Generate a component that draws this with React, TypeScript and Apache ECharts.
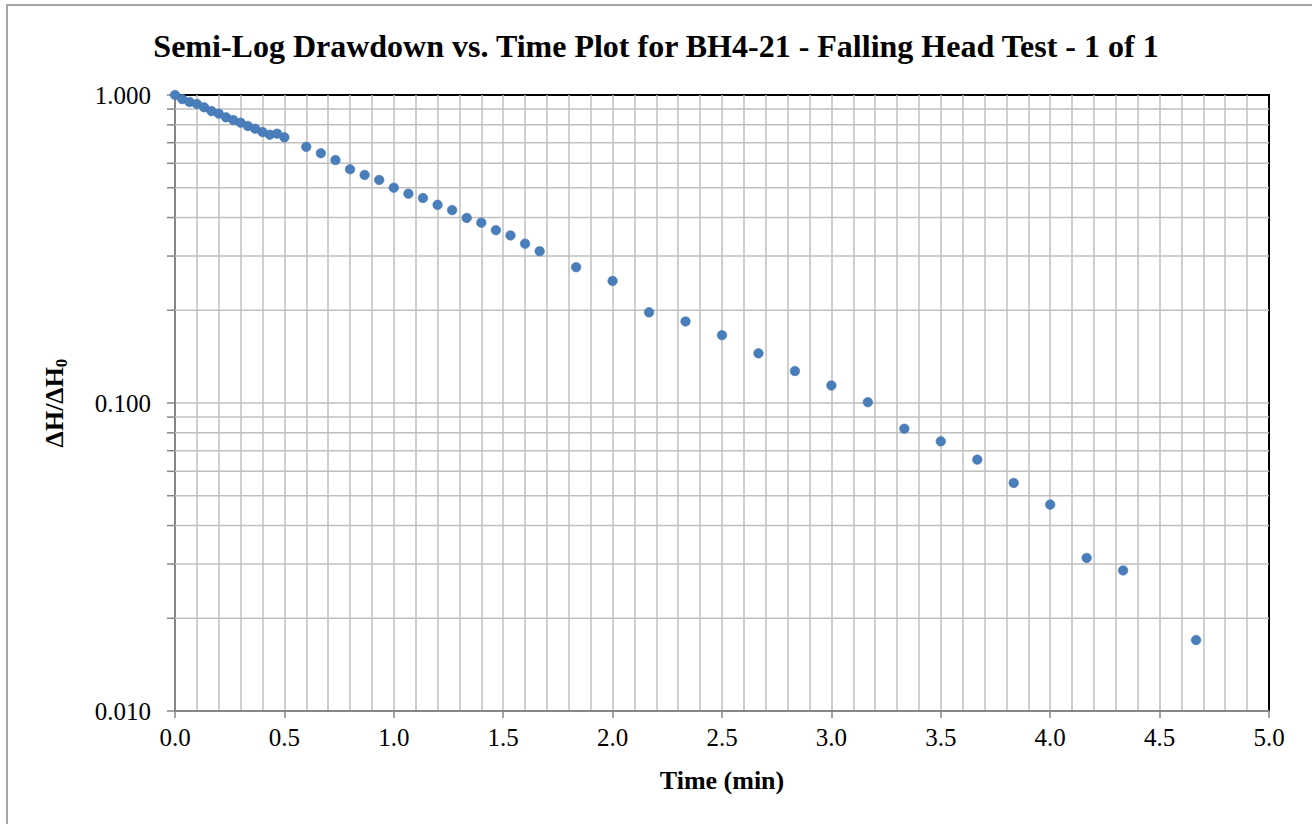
import React, { useEffect, useRef } from "react";
import * as echarts from "echarts";

const TITLE = "Semi-Log Drawdown vs. Time Plot for BH4-21 - Falling Head Test - 1 of 1";
const X_NAME = "Time (min)";

const timeMin: number[] = [
  0, 0.0333, 0.0667, 0.1, 0.1333, 0.1667, 0.2, 0.2333, 0.2667, 0.3, 0.3333, 0.3667, 0.4, 0.4333, 0.4667, 0.5,
  0.6, 0.6667, 0.7333, 0.8, 0.8667, 0.9333, 1.0, 1.0667, 1.1333, 1.2, 1.2667, 1.3333, 1.4, 1.4667, 1.5333, 1.6, 1.6667,
  1.8333, 2.0, 2.1667, 2.3333, 2.5, 2.6667, 2.8333, 3.0, 3.1667, 3.3333, 3.5, 3.6667, 3.8333, 4.0, 4.1667, 4.3333, 4.6667,
];

const headRatio: number[] = [
  1.0, 0.97, 0.949, 0.935, 0.912, 0.887, 0.87, 0.846, 0.829, 0.813, 0.793, 0.777, 0.758, 0.743, 0.749, 0.729,
  0.679, 0.647, 0.615, 0.574, 0.55, 0.53, 0.5, 0.478, 0.463, 0.44, 0.423, 0.399, 0.385, 0.364, 0.35, 0.329, 0.311,
  0.276, 0.249, 0.197, 0.184, 0.166, 0.145, 0.127, 0.114, 0.1006, 0.0825, 0.0751, 0.0655, 0.055, 0.0468, 0.0314, 0.0286, 0.017,
];

const yMinorValues: number[] = [
  0.02, 0.03, 0.04, 0.05, 0.06, 0.07, 0.08, 0.09, 0.2, 0.3, 0.4, 0.5, 0.6, 0.7, 0.8, 0.9,
];

const X_MIN = 0;
const X_MAX = 5;
const X_INTERVAL = 0.5;
const Y_MIN = 0.01;
const Y_MAX = 1;

const FONT = "'Liberation Serif', 'Times New Roman', serif";
const GRID_COLOR = "#bfbfbf";
const AXIS_COLOR = "#868686";

export default function App() {
  const ref = useRef<HTMLDivElement>(null);

  useEffect(() => {
    if (!ref.current) return;
    const chart = echarts.init(ref.current, null, { renderer: "svg" });
    const points = timeMin.map((t, i) => [t, headRatio[i]]);

    chart.setOption({
      animation: false,
      backgroundColor: "#fff",
      textStyle: { fontFamily: FONT },
      title: {
        text: TITLE,
        left: "center",
        top: 25,
        textStyle: { fontFamily: FONT, fontSize: 32, fontWeight: "bold", color: "#000" },
      },
      graphic: [
        {
          type: "rect",
          shape: { x: 7, y: 5, width: 1400, height: 1000 },
          style: { fill: "none", stroke: "#a6a6a6", lineWidth: 2 },
          silent: true,
          z: -10,
        },
      ],
      grid: {
        left: 175,
        right: 43,
        top: 95,
        bottom: 113,
        show: true,
        borderColor: "#000",
        borderWidth: 2,
        backgroundColor: "transparent",
      },
      xAxis: {
        type: "value",
        min: X_MIN,
        max: X_MAX,
        interval: X_INTERVAL,
        name: X_NAME,
        nameLocation: "middle",
        nameGap: 56,
        nameTextStyle: { fontFamily: FONT, fontSize: 26, fontWeight: "bold", color: "#000" },
        axisLine: { show: true, onZero: false, lineStyle: { color: AXIS_COLOR, width: 2 } },
        axisTick: { show: true, length: 7, lineStyle: { color: AXIS_COLOR, width: 1.5 } },
        axisLabel: {
          margin: 14,
          fontFamily: FONT,
          fontSize: 25,
          color: "#000",
          formatter: (v: number) => v.toFixed(1),
        },
        splitLine: { show: true, showMaxLine: false, lineStyle: { color: GRID_COLOR, width: 1.5 } },
        minorTick: { show: false, splitNumber: 5 },
        minorSplitLine: { show: true, lineStyle: { color: GRID_COLOR, width: 1.5 } },
      },
      yAxis: {
        type: "log",
        logBase: 10,
        min: Y_MIN,
        max: Y_MAX,
        name: "{a|ΔH/ΔH}{b|0}",
        nameLocation: "middle",
        nameRotate: 90,
        nameGap: 105,
        nameTextStyle: {
          rich: {
            a: { fontFamily: FONT, fontSize: 26, fontWeight: "bold", color: "#000", lineHeight: 32 },
            b: { fontFamily: FONT, fontSize: 17, fontWeight: "bold", color: "#000", lineHeight: 17, verticalAlign: "bottom", padding: [12, 0, 0, 0] },
          },
        },
        axisLine: { show: true, onZero: false, lineStyle: { color: AXIS_COLOR, width: 2 } },
        axisTick: { show: true, length: 8, lineStyle: { color: AXIS_COLOR, width: 1.5 } },
        axisLabel: {
          margin: 24,
          fontFamily: FONT,
          fontSize: 25,
          color: "#000",
          formatter: (v: number) => v.toFixed(3),
        },
        splitLine: { show: true, showMaxLine: false, lineStyle: { color: GRID_COLOR, width: 1.5 } },
      },
      series: [
        {
          type: "custom",
          name: "minor",
          silent: true,
          clip: false,
          z: 1,
          data: yMinorValues.map((v) => [X_MIN, v]),
          renderItem: (params: any, api: any) => {
            const v = api.value(1);
            const p0 = api.coord([X_MIN, v]);
            const p1 = api.coord([X_MAX, v]);
            return {
              type: "group",
              children: [
                {
                  type: "line",
                  shape: { x1: p0[0], y1: p0[1], x2: p1[0], y2: p1[1] },
                  style: { stroke: GRID_COLOR, lineWidth: 1.5 },
                },
                {
                  type: "line",
                  shape: { x1: p0[0] - 8, y1: p0[1], x2: p0[0], y2: p0[1] },
                  style: { stroke: AXIS_COLOR, lineWidth: 1.5 },
                },
              ],
            };
          },
        },
        {
          type: "scatter",
          name: "ΔH/ΔH0",
          data: points,
          symbol: "circle",
          symbolSize: 9.5,
          z: 5,
          itemStyle: { color: "#4A7EBB", borderColor: "#3F73B0", borderWidth: 0.6, opacity: 1 },
        },
      ],
    });

    return () => chart.dispose();
  }, []);

  return (
    <div
      ref={ref}
      style={{ position: "absolute", left: 0, top: 0, width: 1312, height: 824 }}
    />
  );
}
